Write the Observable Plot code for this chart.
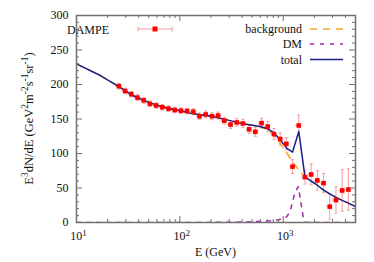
<!DOCTYPE html>
<html><head><meta charset="utf-8">
<script src="https://cdn.jsdelivr.net/npm/d3@7"></script>
<script src="https://cdn.jsdelivr.net/npm/@observablehq/plot@0.6"></script>
<style>body{margin:0;background:#fff} svg{display:block} svg text{font-family:'Liberation Serif','DejaVu Serif',serif}</style>
</head><body><div id="chart"></div>
<script>
// DAMPE data points (bin centers, E^3 flux, errors, bin edges)
const energy = [25.7, 29.5, 33.9, 38.9, 44.7, 51.3, 58.9, 67.6, 77.6, 89.1, 102.3, 117.5, 134.9, 154.9, 177.8, 204.2, 234.4, 269.2, 309.0, 354.8, 407.4, 467.7, 537.0, 616.6, 707.9, 812.8, 933.3, 1071.5, 1230.3, 1412.5, 1621.8, 1862.1, 2137.9, 2454.7, 2818.4, 3235.9, 3715.4, 4265.8];
const flux = [197.5, 190.5, 186, 181, 177, 172, 169.6, 167, 165, 163, 162, 161.5, 160.5, 154, 156.5, 154, 155, 147.5, 142, 145, 143.5, 135, 131.5, 144, 139, 128, 121, 114, 81, 140.6, 65.7, 69.6, 61, 57, 23, 32.5, 46.4, 47.8];
const fluxErr = [4, 4, 4, 4, 4, 4, 4, 4, 4, 4, 4, 4, 4.5, 4.5, 5, 5, 5, 5, 5.5, 5.5, 6, 6, 6.5, 7, 7.5, 8, 9, 9, 10, 15, 10, 15, 14, 14, 18, 19, 30, 30];
const binEdges = [24.0, 27.5, 31.6, 36.3, 41.7, 47.9, 55.0, 63.1, 72.4, 83.2, 95.5, 109.6, 125.9, 144.5, 166.0, 190.6, 218.8, 251.2, 288.4, 331.1, 380.2, 436.5, 501.2, 575.4, 660.7, 758.6, 871.0, 1000, 1148, 1318, 1514, 1737, 1995, 2291, 2630, 3020, 3467, 3981, 4571];

// model curves
const curveEnergy = [10, 17, 25.7, 35, 52, 75, 100, 126, 200, 300, 385, 500, 600, 700, 815, 943, 1093, 1230, 1413, 1622, 1862, 2138, 2455, 2818, 3236, 3715, 4266, 5000];
const totalFlux = [230, 213, 197, 184, 173, 166, 162, 158.5, 154, 148, 144, 141, 139, 136, 130, 119, 107, 102, 132, 66, 60, 54, 47, 41.5, 36.5, 32, 28, 23];
const backgroundFlux = [230, 213, 197, 184, 173, 166, 162, 158.5, 154, 148, 144, 141, 138.5, 135, 127, 114, 100, 88, 76, 66, 60, 54, 47, 41.5, 36.5, 32, 28, 23];
const dmEnergy = [10, 100, 300, 500, 700, 900, 1000, 1080, 1170, 1300, 1400, 1460, 1560, 1622, 1700, 5000];
const dmFlux = [0, 0, 0.3, 1, 2, 4, 6, 8, 17, 44, 52, 35, 8, 1, 0, 0];

// axes
const xMajorTicks = [10, 100, 1000];
const xTickExponents = ["1", "2", "3"];
const yMajorTicks = [0, 50, 100, 150, 200, 250, 300];

const W = 374, H = 262, mL = 76, mR = 19, mT = 15, mB = 40;
const fw = W - mL - mR, fh = H - mT - mB;
const serif = "'Liberation Serif', 'DejaVu Serif', serif";
const frameColor = "#707070";
const totalColor = "#1b1f8a", bgColor = "#f5a623", dmColor = "#a526b0";
const errColor = "#f59a9a", ptColor = "#ff0000";

const points = energy.map((e, i) => ({e, v: flux[i], err: fluxErr[i], lo: binEdges[i], hi: binEdges[i + 1]}));
const curves = curveEnergy.map((e, i) => ({e, total: totalFlux[i], bg: backgroundFlux[i]}));
const dm = dmEnergy.map((e, i) => ({e, v: dmFlux[i]}));

const xMinor = [];
for (const d of [10, 100, 1000]) for (let k = 2; k <= 9; k++) if (k * d < 5000) xMinor.push(k * d);
const yMinor = d3.range(0, 301, 10).filter(v => v % 50 !== 0);

const capF = 1.035;

const chart = Plot.plot({
  width: W, height: H,
  marginLeft: mL, marginRight: mR, marginTop: mT, marginBottom: mB,
  x: {type: "log", domain: [10, 5000]},
  y: {domain: [0, 300]},
  style: {fontFamily: serif, fontSize: "12px", background: "white", color: "#111"},
  marks: [
    Plot.ruleX(points, {x: "e", y1: d => d.v - d.err, y2: d => d.v + d.err, stroke: errColor, strokeWidth: 1}),
    Plot.ruleY(points, {y: "v", x1: "lo", x2: "hi", stroke: errColor, strokeWidth: 1}),
    Plot.link(points, {x1: d => d.e / capF, x2: d => d.e * capF, y1: d => d.v + d.err, y2: d => d.v + d.err, stroke: errColor, strokeWidth: 1}),
    Plot.link(points, {x1: d => d.e / capF, x2: d => d.e * capF, y1: d => d.v - d.err, y2: d => d.v - d.err, stroke: errColor, strokeWidth: 1}),
    Plot.line(curves, {x: "e", y: "bg", stroke: bgColor, strokeWidth: 1.5, strokeDasharray: "7,6", clip: true}),
    Plot.line(dm, {x: "e", y: "v", stroke: dmColor, strokeWidth: 1.5, strokeDasharray: "4,6", clip: true}),
    Plot.line(curves, {x: "e", y: "total", stroke: totalColor, strokeWidth: 1.5, clip: true}),
    Plot.dot(points, {x: "e", y: "v", symbol: "square", r: 2.6, fill: ptColor, stroke: "none"}),
    Plot.tickY(yMajorTicks, {y: d => d, insetRight: fw - 6, stroke: frameColor, strokeWidth: 1}),
    Plot.tickY(yMajorTicks, {y: d => d, insetLeft: fw - 6, stroke: frameColor, strokeWidth: 1}),
    Plot.tickY(yMinor, {y: d => d, insetRight: fw - 3, stroke: frameColor, strokeWidth: 1}),
    Plot.tickY(yMinor, {y: d => d, insetLeft: fw - 3, stroke: frameColor, strokeWidth: 1}),
    Plot.tickX(xMajorTicks, {x: d => d, insetTop: fh - 6, stroke: frameColor, strokeWidth: 1}),
    Plot.tickX(xMajorTicks, {x: d => d, insetBottom: fh - 6, stroke: frameColor, strokeWidth: 1}),
    Plot.tickX(xMinor, {x: d => d, insetTop: fh - 3, stroke: frameColor, strokeWidth: 1}),
    Plot.tickX(xMinor, {x: d => d, insetBottom: fh - 3, stroke: frameColor, strokeWidth: 1}),
    Plot.frame({stroke: frameColor, strokeWidth: 1.5}),
    Plot.axisY({ticks: yMajorTicks, tickSize: 0, tickPadding: 8, label: null, fontSize: 12}),
    Plot.axisX({ticks: xMajorTicks, tickSize: 0, tickPadding: 9, label: null, fontSize: 12, tickFormat: d => "10"})
  ]
});

document.getElementById("chart").appendChild(chart);
const svg = d3.select(chart);

// superscripts on x tick labels
svg.selectAll('g[aria-label="x-axis tick label"] text').each(function (d, i) {
  const t = d3.select(this);
  t.text(null).attr("dx", "2");
  t.append("tspan").text("10");
  t.append("tspan").attr("dy", "-0.45em").attr("font-size", "9").text(xTickExponents[i]);
});

// axis titles
svg.append("text").attr("x", mL + fw / 2).attr("y", 256).attr("text-anchor", "middle")
  .attr("font-size", 12).attr("fill", "#111").text("E (GeV)");

const yg = svg.append("g").attr("transform", `translate(33,${mT + fh / 2}) rotate(-90)`);
const yl = yg.append("text").attr("x", 0).attr("y", 0)
  .attr("text-anchor", "start").attr("font-size", 12.5).attr("fill", "#111");
const parts = [["E", 0], ["3", 1], ["dN/dE (GeV", 0], ["2", 1], ["m", 0], ["-2", 1], ["s", 0], ["-1", 1], ["sr", 0], ["-1", 1], [")", 0]];
let prevSup = false;
for (const [s, sup] of parts) {
  const ts = yl.append("tspan").text(s);
  if (sup && !prevSup) ts.attr("dy", "-5").attr("font-size", 9.5);
  else if (!sup && prevSup) ts.attr("dy", "5");
  else if (sup) ts.attr("font-size", 9.5);
  prevSup = !!sup;
}
const ylw = yl.node().getBBox().width;
yl.attr("x", -ylw / 2);

// legend
const lg = svg.append("g").attr("font-size", 12).attr("fill", "#111");
lg.append("text").attr("x", 88).attr("y", 33.5).text("DAMPE");
lg.append("line").attr("x1", 138).attr("x2", 172).attr("y1", 29).attr("y2", 29).attr("stroke", errColor);
lg.append("line").attr("x1", 138).attr("x2", 138).attr("y1", 26.5).attr("y2", 31.5).attr("stroke", errColor);
lg.append("line").attr("x1", 172).attr("x2", 172).attr("y1", 26.5).attr("y2", 31.5).attr("stroke", errColor);
lg.append("rect").attr("x", 152.5).attr("y", 26.5).attr("width", 5).attr("height", 5).attr("fill", ptColor);

const rl = [["background", 33, 29, bgColor, "7,6"], ["DM", 47.5, 44, dmColor, "4,6"], ["total", 63.5, 59.5, totalColor, null]];
for (const [label, ty, ly, col, dash] of rl) {
  lg.append("text").attr("x", 302).attr("y", ty).attr("text-anchor", "end").text(label);
  const l = lg.append("line").attr("x1", 310).attr("x2", 343).attr("y1", ly).attr("y2", ly)
    .attr("stroke", col).attr("stroke-width", 1.5);
  if (dash) l.attr("stroke-dasharray", dash);
}
</script>
</body></html>
